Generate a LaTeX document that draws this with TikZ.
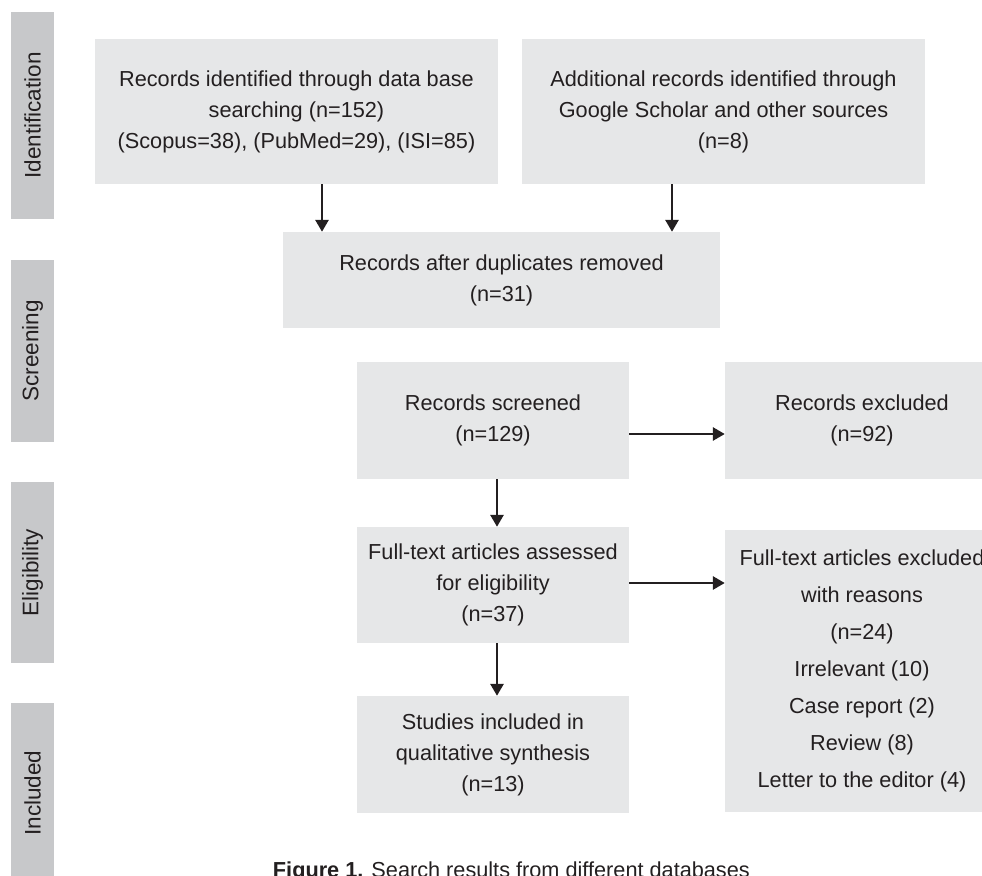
\documentclass[tikz,border=0pt]{standalone}
\usepackage{fontspec}
\setmainfont{Liberation Sans}
\usetikzlibrary{arrows.meta}
\definecolor{txt}{RGB}{35,31,32}
\definecolor{boxfill}{RGB}{230,231,232}
\definecolor{labfill}{RGB}{199,200,202}
\begin{document}
\begin{tikzpicture}[x=1pt,y=-1pt,
  box/.style={fill=boxfill, inner sep=0pt, align=center, text=txt,
    font=\fontsize{21.7}{31}\selectfont},
  lab/.style={fill=labfill, inner sep=0pt, minimum height=43pt, text=txt,
    rotate=90, font=\fontsize{22.5}{26}\selectfont},
  arr/.style={draw=txt, line width=2.8pt, -{Triangle[length=12pt,width=13pt]}}]
\useasboundingbox (0,0) rectangle (982,875);
\clip (0,0) rectangle (982,875);

% stage labels
\node[lab, minimum width=207pt] (lid) at (32.5,115.5) {Identification};
\node[lab, minimum width=182pt] (lsc) at (32.5,351) {Screening};
\node[lab, minimum width=181pt] (lel) at (32.5,572.5) {Eligibility};
\node[lab, minimum width=180pt] (lin) at (32.5,793) {Included};

% boxes
\node[box, minimum width=403pt, minimum height=145pt] (b1) at (296.5,111.5)
  {Records identified through data base\\searching (n=152)\\(Scopus=38), (PubMed=29), (ISI=85)};
\node[box, minimum width=403pt, minimum height=145pt] (b2) at (723.5,111.5)
  {Additional records identified through\\Google Scholar and other sources\\(n=8)};
\node[box, minimum width=437pt, minimum height=96pt] (b3) at (501.5,280)
  {Records after duplicates removed\\(n=31)};
\node[box, minimum width=272pt, minimum height=117pt] (b4) at (493,420.5)
  {Records screened\\(n=129)};
\node[box, minimum width=274pt, minimum height=117pt] (ex1) at (862,420.5)
  {Records excluded\\(n=92)};
\node[box, minimum width=272pt, minimum height=116pt] (b5) at (493,585)
  {Full-text articles assessed\\for eligibility\\(n=37)};
\node[box, minimum width=274pt, minimum height=282pt,
  font=\fontsize{21.7}{37}\selectfont] (ex2) at (862,671)
  {Full-text articles excluded\\with reasons\\(n=24)\\Irrelevant (10)\\Case report (2)\\Review (8)\\Letter to the editor (4)};
\node[box, minimum width=272pt, minimum height=117pt] (b6) at (493,754.5)
  {Studies included in\\qualitative synthesis\\(n=13)};

% caption
\node[anchor=base east, inner sep=0pt, text=txt, font=\fontsize{21.7}{26}\selectfont] (cap) at (750,877)
  {\textbf{Figure 1.} Search results from different databases};

% helper coordinates
\coordinate (xa) at (322,0);
\coordinate (xb) at (672,0);
\coordinate (xc) at (497,0);
\coordinate (ya) at (0,434);
\coordinate (yb) at (0,583);

% connectors
\draw[arr] (b1.south -| xa) -- (b3.north -| xa);
\draw[arr] (b2.south -| xb) -- (b3.north -| xb);
\draw[arr] (b4.east |- ya) -- (ex1.west |- ya);
\draw[arr] (b4.south -| xc) -- (b5.north -| xc);
\draw[arr] (b5.east |- yb) -- (ex2.west |- yb);
\draw[arr] (b5.south -| xc) -- (b6.north -| xc);
\end{tikzpicture}
\end{document}
